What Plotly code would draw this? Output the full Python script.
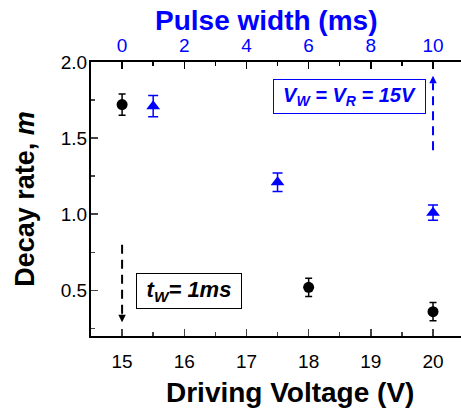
import plotly.graph_objects as go

# Data
voltage = [15, 18, 20]
decay_voltage = [1.72, 0.52, 0.36]
err_voltage = [0.07, 0.06, 0.06]

pulse_width = [1, 5, 10]
decay_pulse = [1.71, 1.21, 1.01]
err_pulse = [0.07, 0.06, 0.05]

x_ticks = [15, 16, 17, 18, 19, 20]
x2_ticks = [0, 2, 4, 6, 8, 10]
y_ticks = [0.5, 1.0, 1.5, 2.0]

BLUE = "#0000ff"
FONT = "Liberation Sans, Arial, sans-serif"

W, H = 461, 412

fig = go.Figure()

fig.add_trace(go.Scatter(
    x=voltage, y=decay_voltage, mode="markers",
    marker=dict(symbol="circle", size=11, color="black"),
    error_y=dict(type="data", array=err_voltage, color="black", thickness=1.5, width=3.5),
    xaxis="x", yaxis="y", showlegend=False,
))

fig.add_trace(go.Scatter(
    x=pulse_width, y=decay_pulse, mode="markers",
    marker=dict(symbol="triangle-up", size=12, color=BLUE),
    error_y=dict(type="data", array=err_pulse, color=BLUE, thickness=1.5, width=5),
    xaxis="x2", yaxis="y", showlegend=False,
))

# dashed arrows (lines as shapes, heads as annotations)
fig.add_shape(type="line", xref="x", yref="y", x0=15, x1=15, y0=0.80, y1=0.34,
              line=dict(color="black", width=2, dash="9px,6px"))
fig.add_annotation(x=15, y=0.29, ax=15, ay=0.35, xref="x", yref="y", axref="x", ayref="y",
                   showarrow=True, arrowhead=2, arrowsize=1, arrowwidth=1.5,
                   arrowcolor="black", text="")
fig.add_shape(type="line", xref="x", yref="y", x0=20, x1=20, y0=1.42, y1=1.86,
              line=dict(color=BLUE, width=2, dash="9px,6px"))
fig.add_annotation(x=20, y=1.91, ax=20, ay=1.85, xref="x", yref="y", axref="x", ayref="y",
                   showarrow=True, arrowhead=2, arrowsize=1, arrowwidth=1.5,
                   arrowcolor=BLUE, text="")

# boxed labels
fig.add_annotation(x=16.08, y=0.495, xref="x", yref="y", showarrow=False,
                   text="<b><i>t<sub>W</sub>= 1ms</i></b>",
                   font=dict(family=FONT, size=22, color="black"),
                   bordercolor="black", borderwidth=1, borderpad=1,
                   width=102, height=32, bgcolor="white")
fig.add_annotation(x=18.65, y=1.773, xref="x", yref="y", showarrow=False,
                   text="<b><i>V<sub>W</sub> = V<sub>R</sub> = 15V</i></b>",
                   font=dict(family=FONT, size=20, color=BLUE),
                   bordercolor=BLUE, borderwidth=1, borderpad=1,
                   width=149, height=31, bgcolor="white")

# x-axis titles (placed as annotations to match their offset positions)
fig.add_annotation(x=0.538, y=0, xref="paper", yref="paper", yanchor="middle", yshift=-56,
                   showarrow=False, text="<b>Driving Voltage (V)</b>",
                   font=dict(family=FONT, size=28, color="black"))
fig.add_annotation(x=0.473, y=1, xref="paper", yref="paper", yanchor="middle", yshift=42,
                   showarrow=False, text="<b>Pulse width (ms)</b>",
                   font=dict(family=FONT, size=28, color=BLUE))

fig.update_layout(
    width=W, height=H,
    margin=dict(l=91, r=0, t=62, b=76),
    paper_bgcolor="white", plot_bgcolor="white",
    font=dict(family=FONT, color="black"),
    hovermode=False,
    xaxis=dict(
        range=[14.5, 20.45], tickvals=x_ticks, ticks="inside", ticklen=7, tickwidth=1.5,
        showline=True, linecolor="black", linewidth=2, showgrid=False, zeroline=False,
        minor=dict(dtick=0.5, ticks="inside", ticklen=4, tickwidth=1.5, tick0=14.5),
        tickfont=dict(size=19, color="black"), ticklabelstandoff=7, automargin=False,
    ),
    xaxis2=dict(
        range=[-1, 10.9], overlaying="x", side="top", tickvals=x2_ticks,
        ticks="inside", ticklen=7, tickwidth=1.5, tickcolor="black",
        showline=True, linecolor="black", linewidth=2, showgrid=False, zeroline=False,
        minor=dict(dtick=1, ticks="inside", ticklen=4, tickwidth=1.5, tick0=-1, tickcolor="black"),
        tickfont=dict(size=19, color=BLUE), automargin=False,
    ),
    yaxis=dict(
        range=[0.2, 2.0], tickvals=y_ticks, tickformat=".1f", ticks="inside", ticklen=7, tickwidth=1.5,
        showline=True, linecolor="black", linewidth=2, showgrid=False, zeroline=False,
        minor=dict(dtick=0.25, ticks="inside", ticklen=4, tickwidth=1.5, tick0=0.25),
        tickfont=dict(size=19, color="black"), ticklabelstandoff=-2, automargin=False,
        title=dict(text="<b>Decay rate, <i>m</i></b>", font=dict(size=27, color="black"), standoff=18),
    ),
)

# remove the browser's default 8px body margin so the figure fills the window
fig.write_html("out.html", config={"displayModeBar": False, "staticPlot": True},
               post_script="document.body.style.margin='0px';")
